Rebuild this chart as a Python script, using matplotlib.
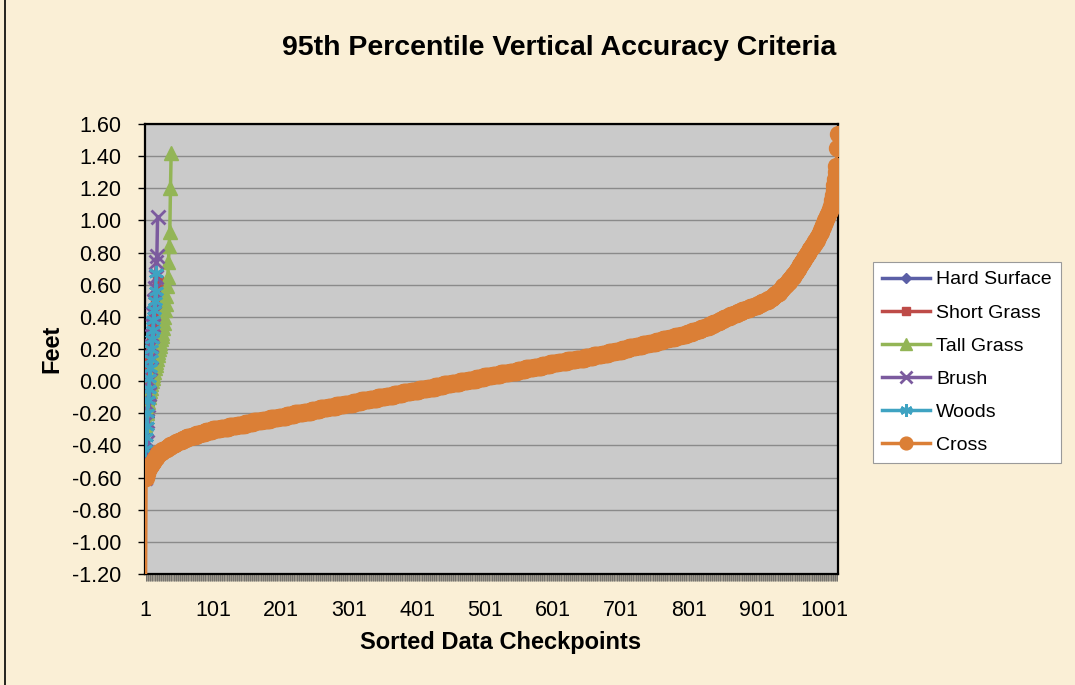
import numpy as np
import matplotlib
matplotlib.use("Agg")
import matplotlib.pyplot as plt
from matplotlib.ticker import FixedLocator, MultipleLocator, StrMethodFormatter
from matplotlib.lines import Line2D

plt.rcParams['font.family'] = ['Liberation Sans', 'DejaVu Sans']
plt.rcParams['axes.unicode_minus'] = False

# sorted checkpoint errors (feet) for the small land-cover classes
hard_surface = [-0.40, -0.30, -0.22, -0.15, -0.09, -0.03, 0.02, 0.07, 0.12, 0.18, 0.24, 0.30]
short_grass = [-0.16, -0.13, -0.10, -0.06, -0.02, 0.03, 0.07, 0.12, 0.16, 0.20,
               0.25, 0.30, 0.34, 0.38, 0.42, 0.47, 0.52, 0.57, 0.62]
tall_grass = [-0.27, -0.24, -0.20, -0.16, -0.13, -0.10, -0.08, -0.06, -0.04, -0.02,
              0.00, 0.02, 0.04, 0.06, 0.08, 0.10, 0.12, 0.14, 0.16, 0.18,
              0.20, 0.22, 0.24, 0.26, 0.28, 0.30, 0.33, 0.36, 0.40, 0.44,
              0.48, 0.53, 0.59, 0.65, 0.74, 0.84, 0.93, 1.20, 1.42]
brush = [-0.60, -0.45, -0.38, -0.25, -0.15, -0.08, 0.00, 0.08, 0.15, 0.22,
         0.28, 0.35, 0.42, 0.50, 0.58, 0.65, 0.74, 0.78, 1.02]
woods = [-0.42, -0.35, -0.28, -0.20, -0.12, -0.05, 0.02, 0.08, 0.14, 0.20,
         0.26, 0.32, 0.38, 0.44, 0.50, 0.56, 0.67]

# Cross: lowest outlier, then number of checkpoints at each 0.01 ft level from -0.60, then top tail
cross_low = [-1.48]
cross_start = -0.60
cross_counts = [
    1, 0, 1, 0, 1,                                   # -0.60 .. -0.56
    1, 2, 1, 2, 1, 2, 1, 2, 1, 2,                    # -0.55 .. -0.46
    3, 3, 4, 4, 4, 4, 4, 4,                          # -0.45 .. -0.38
    6, 6, 7, 7, 7, 7,                                # -0.37 .. -0.32
    10, 12, 12, 12,                                  # -0.31 .. -0.28
    12, 12, 13, 12, 12, 12, 12, 13, 12, 12, 12, 12, 12, 13,
    12, 12, 12, 12, 12, 13, 12, 12, 12, 12, 12, 12, 12,  # -0.27 .. -0.01
    12, 12, 12, 12, 12, 13, 12, 12, 12, 12, 12,      # 0.00 .. 0.10
    12, 13, 13, 13, 13, 12,                          # 0.11 .. 0.16
    10, 10, 10, 10, 10, 10, 10,                      # 0.17 .. 0.23
    10, 10, 9, 9, 9, 8, 8, 7,                        # 0.24 .. 0.31
    6, 6, 6, 6, 5, 5, 5, 5, 5, 5,                    # 0.32 .. 0.41
    6, 6, 6, 6, 6, 6, 5, 5, 5,                       # 0.42 .. 0.50
    4, 3, 3, 3, 3, 2, 2, 2, 2,                       # 0.51 .. 0.59
    3, 2, 2, 2, 2, 2,                                # 0.60 .. 0.65
    2, 1, 2, 1, 2, 1, 2, 1, 2, 1, 2, 1, 2, 1, 2, 1, 2, 1, 2, 1, 2,  # 0.66 .. 0.86
    2, 1, 1, 1, 2, 1, 1, 1, 1, 1, 1, 1, 1, 1, 1, 1, 1, 1, 1, 1,     # 0.87 .. 1.06
]
cross_high = [1.07, 1.09, 1.11, 1.13, 1.16, 1.19, 1.22, 1.26, 1.30, 1.34, 1.45, 1.54]

levels = [round(cross_start + 0.01 * i, 2) for i in range(len(cross_counts))]
cross = cross_low + list(np.repeat(levels, cross_counts)) + cross_high
n = len(cross)

series = [
    ("Hard Surface", hard_surface, "#5B5FA6", "D", 7),
    ("Short Grass", short_grass, "#BE4B48", "s", 7.5),
    ("Tall Grass", tall_grass, "#93B556", "^", 10),
    ("Brush", brush, "#7B5A9E", "x", 10),
    ("Woods", woods, "#3FA3C2", (6, 2, 0), 11),
    ("Cross", cross, "#DB7F36", "o", 11.5),
]

bg = "#FAEFD6"
fig = plt.figure(figsize=(10.75, 6.85), dpi=100, facecolor=bg)
ax = fig.add_axes([145 / 1075, 111 / 685, 693 / 1075, 450 / 685])
ax.set_facecolor("#CACACA")

for name, vals, col, mk, ms in series:
    x = np.arange(1, len(vals) + 1)
    mew = 2 if mk == "x" or isinstance(mk, tuple) else 1
    ax.plot(x, vals, color=col, lw=2.5, marker=mk, ms=ms, mfc=col, mec=col,
            mew=mew, label=name, zorder=3)

ax.set_xlim(0.5, n + 0.5)
ax.set_ylim(-1.2, 1.6)
ax.yaxis.set_major_locator(MultipleLocator(0.2))
ax.yaxis.set_major_formatter(StrMethodFormatter("{x:.2f}"))
ax.grid(axis="y", color="#8A8A8A", lw=1, zorder=1)
ax.set_axisbelow(True)

ax.xaxis.set_major_locator(FixedLocator(np.arange(1, n + 1, 100)))
ax.xaxis.set_minor_locator(FixedLocator(np.arange(1.5, n, 1)))
ax.tick_params(axis="x", which="major", length=0, labelsize=15.5, pad=19)
ax.tick_params(axis="x", which="minor", length=5, width=0.4, color="#555555")
ax.tick_params(axis="y", which="major", length=5, width=1, labelsize=15.5, pad=12)

for s in ax.spines.values():
    s.set_linewidth(1.6)
    s.set_color("black")

fig.text(559 / 1075, 1 - 48 / 685, "95th Percentile Vertical Accuracy Criteria",
         ha="center", va="center", fontsize=20.5, fontweight="bold")
fig.text(501 / 1075, 1 - 643 / 685, "Sorted Data Checkpoints",
         ha="center", va="center", fontsize=17, fontweight="bold")
fig.text(52 / 1075, 1 - 349 / 685, "Feet", rotation=90,
         ha="center", va="center", fontsize=17, fontweight="bold")

leg = fig.legend(loc="upper left", bbox_to_anchor=(873 / 1075, 1 - 262 / 685),
                 borderaxespad=0, fontsize=14, frameon=True, fancybox=False,
                 edgecolor="#9A9A9A", facecolor="white", framealpha=1,
                 handlelength=2.5, labelspacing=0.8, borderpad=0.45,
                 handletextpad=0.3, markerscale=0.8)
leg.get_frame().set_linewidth(0.8)

# thin border line at the left edge of the sheet
fig.add_artist(Line2D([5 / 1075, 5 / 1075], [0, 1], transform=fig.transFigure,
                      color="black", lw=1.2))

fig.savefig("out.png", dpi=100, facecolor=bg)
